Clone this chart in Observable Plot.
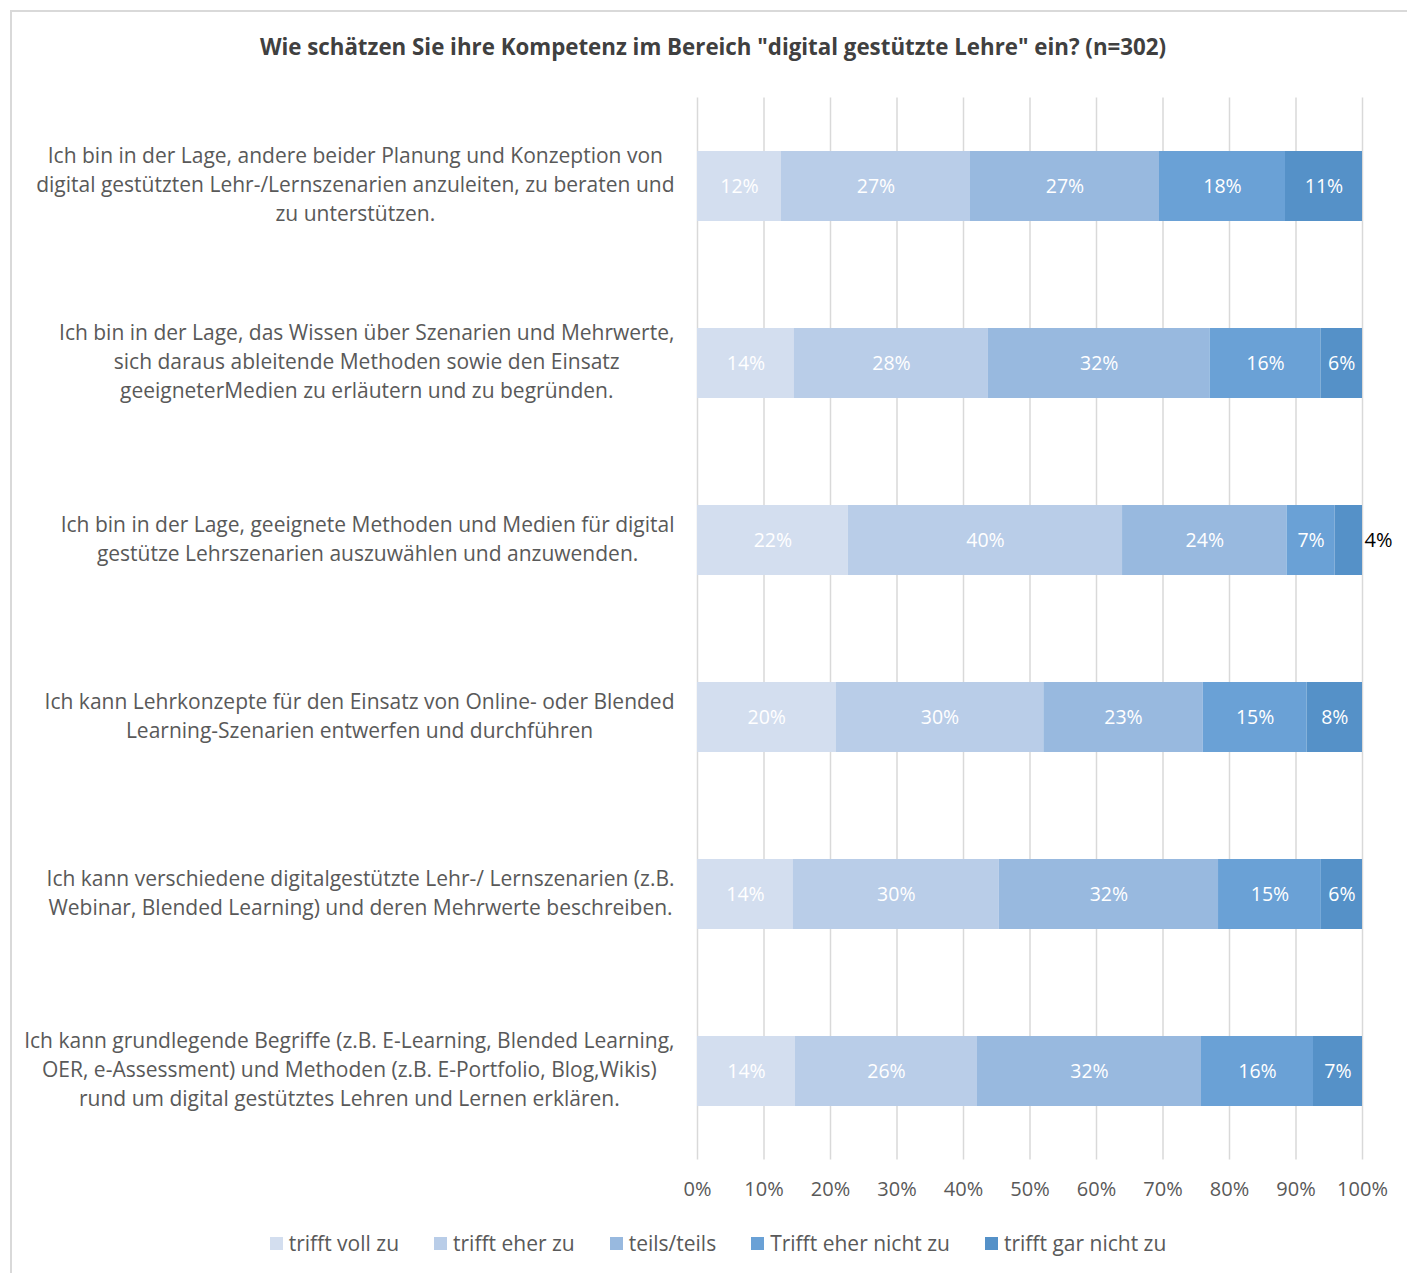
<!DOCTYPE html>
<html>
<head>
<meta charset="utf-8">
<script src="https://cdn.jsdelivr.net/npm/d3@7"></script>
<script src="https://cdn.jsdelivr.net/npm/@observablehq/plot@0.6"></script>
<style>
  html, body { margin: 0; padding: 0; background: #fff; overflow: hidden; }
  #root { position: relative; width: 1407px; height: 1273px; font-family: "Open Sans", sans-serif; }
  #frame { position: absolute; left: 10px; top: 10px; width: 1420px; height: 1300px;
           border-top: 2px solid #d9d9d9; border-left: 2px solid #d9d9d9; box-sizing: border-box; }
  #title { position: absolute; left: 0; top: 31px; width: 1426px; text-align: center;
           font-family: "Open Sans", sans-serif; font-weight: bold; font-size: 22.3px; color: #404040; line-height: 32px; }
  #chart { position: absolute; left: 0; top: 90px; }
  #legend { position: absolute; left: 0; top: 1228px; width: 1436px; display: flex; justify-content: center;
            font-size: 21px; color: #595959; line-height: 30px; }
  .item { display: flex; align-items: center; margin: 0 17.5px; }
  .sw { width: 13px; height: 13px; margin-right: 6px; }
</style>
</head>
<body>
<div id="root">
  <div id="frame"></div>
  <div id="title"></div>
  <div id="chart"></div>
  <div id="legend"></div>
</div>
<script>
const titleText = 'Wie schätzen Sie ihre Kompetenz im Bereich "digital gestützte Lehre" ein? (n=302)';

const categories = [
  "Ich bin in der Lage, andere beider Planung und Konzeption von\ndigital gestützten Lehr-/Lernszenarien anzuleiten, zu beraten und\nzu unterstützen.",
  "Ich bin in der Lage, das Wissen über Szenarien und Mehrwerte,\nsich daraus ableitende Methoden sowie den Einsatz\ngeeigneterMedien zu erläutern und zu begründen.",
  "Ich bin in der Lage, geeignete Methoden und Medien für digital\ngestütze Lehrszenarien auszuwählen und anzuwenden.",
  "Ich kann Lehrkonzepte für den Einsatz von Online- oder Blended\nLearning-Szenarien entwerfen und durchführen",
  "Ich kann verschiedene digitalgestützte Lehr-/ Lernszenarien (z.B.\nWebinar, Blended Learning) und deren Mehrwerte beschreiben.",
  "Ich kann grundlegende Begriffe (z.B. E-Learning, Blended Learning,\nOER, e-Assessment) und Methoden (z.B. E-Portfolio, Blog,Wikis)\nrund um digital gestütztes Lehren und Lernen erklären."
];

const seriesNames = ["trifft voll zu", "trifft eher zu", "teils/teils", "Trifft eher nicht zu", "trifft gar nicht zu"];
const seriesColors = ["#D3DEEF", "#B9CDE8", "#98B9DF", "#6AA1D6", "#5591C8"];

const trifftVollZu      = [12, 14, 22, 20, 14, 14];
const trifftEherZu      = [27, 28, 40, 30, 30, 26];
const teilsTeils        = [27, 32, 24, 23, 32, 32];
const trifftEherNichtZu = [18, 16,  7, 15, 15, 16];
const trifftGarNichtZu  = [11,  6,  4,  8,  6,  7];

const xTicks = [0, 10, 20, 30, 40, 50, 60, 70, 80, 90, 100];

const seriesValues = [trifftVollZu, trifftEherZu, teilsTeils, trifftEherNichtZu, trifftGarNichtZu];
const data = [];
categories.forEach((c, i) => {
  seriesNames.forEach((s, j) => {
    data.push({cat: i, series: s, value: seriesValues[j][i]});
  });
});

document.getElementById("title").textContent = titleText;

const stackOpts = {x: "value", y: "cat", z: "series", offset: "normalize", order: seriesNames};
const isOutside = d => d.value < 5;

const chart = Plot.plot({
  width: 1407,
  height: 1120,
  marginLeft: 697,
  marginRight: 45,
  marginTop: 7.5,
  marginBottom: 50.5,
  style: {fontFamily: "'Open Sans', sans-serif", background: "transparent"},
  x: {domain: [0, 1], ticks: xTicks.map(t => t / 100)},
  y: {type: "band", domain: d3.range(categories.length), paddingInner: 0.605, paddingOuter: 0.3025},
  color: {domain: seriesNames, range: seriesColors},
  marks: [
    Plot.gridX(xTicks.map(t => t / 100), {stroke: "#d9d9d9", strokeOpacity: 1, strokeWidth: 1.5}),
    Plot.barX(data, Plot.stackX({...stackOpts, fill: "series"})),
    Plot.text(data, Plot.stackX({...stackOpts,
      text: d => isOutside(d) ? "" : d.value + "%",
      fill: "white", fontSize: 19.5})),
    Plot.text(data, Plot.stackX2({...stackOpts,
      text: d => isOutside(d) ? d.value + "%" : "",
      fill: "black", fontSize: 20, textAnchor: "start", dx: 2})),
    Plot.axisX({ticks: xTicks.map(t => t / 100), tickFormat: d => Math.round(d * 100) + "%",
      tickSize: 0, tickPadding: 22, fontSize: 20, color: "#595959", label: null}),
    Plot.axisY({tickFormat: i => categories[i], tickSize: 0, tickPadding: 23, fontSize: 21,
      lineHeight: 29 / 21, color: "#595959", label: null})
  ]
});

document.getElementById("chart").appendChild(chart);

// Excel-style: wrapped label block right-aligned, lines centered within block
chart.querySelectorAll('g[aria-label="y-axis tick label"] text').forEach(t => {
  const w = t.getBBox().width;
  t.setAttribute("text-anchor", "middle");
  const tr = t.getAttribute("transform") || "";
  t.setAttribute("transform", tr + ` translate(${-w / 2},-3.5)`);
});

const legend = document.getElementById("legend");
seriesNames.forEach((s, j) => {
  const item = document.createElement("div");
  item.className = "item";
  const sw = document.createElement("div");
  sw.className = "sw";
  sw.style.background = seriesColors[j];
  const lab = document.createElement("span");
  lab.textContent = s;
  item.appendChild(sw);
  item.appendChild(lab);
  legend.appendChild(item);
});
</script>
</body>
</html>
